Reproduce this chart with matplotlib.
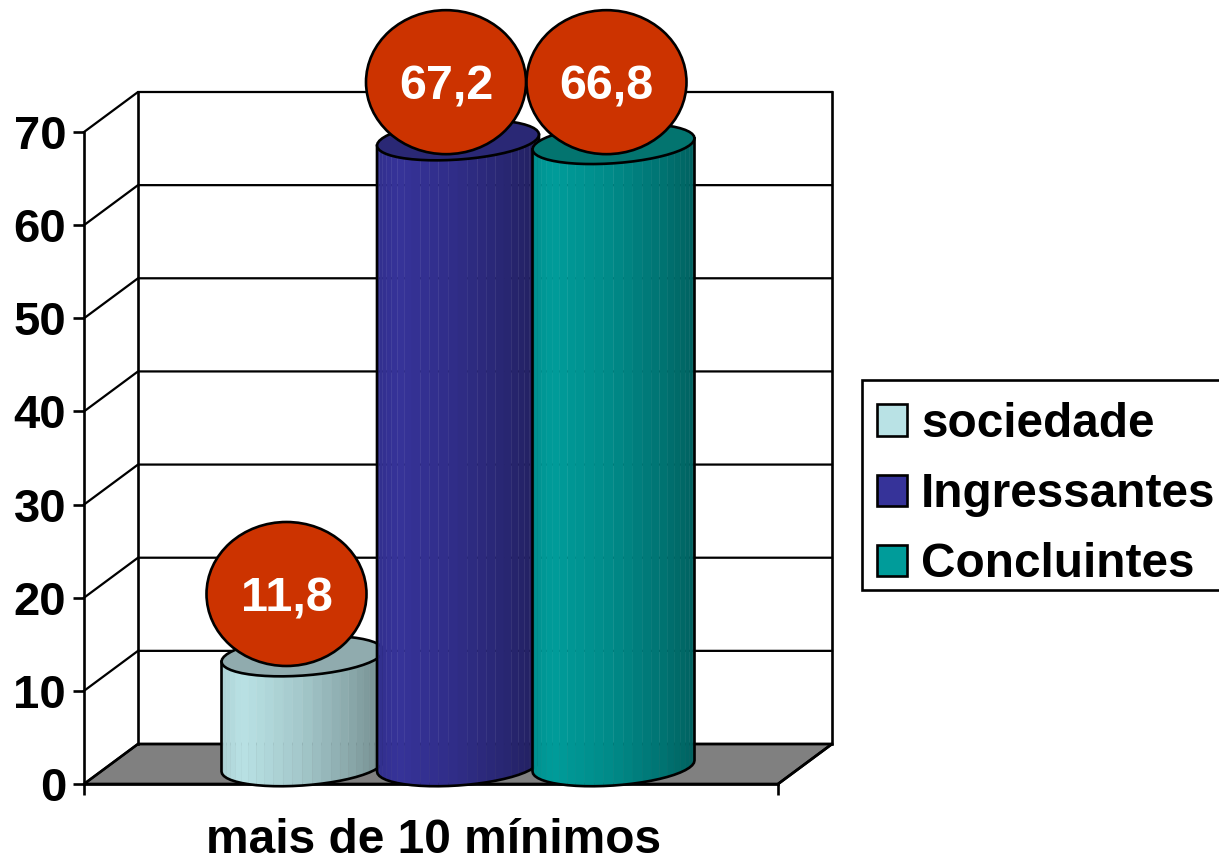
import matplotlib
matplotlib.use("Agg")
import matplotlib.pyplot as plt
import numpy as np
from matplotlib.patches import Ellipse, Patch, Polygon, Rectangle

plt.rcParams['font.family'] = ['Liberation Sans', 'DejaVu Sans']
plt.rcParams['font.weight'] = 'bold'

# ---- data ----
category = "mais de 10 mínimos"
series = ["sociedade", "Ingressantes", "Concluintes"]
values = [11.8, 67.2, 66.8]
y_ticks = [0, 10, 20, 30, 40, 50, 60, 70]
colors = ["#B9E2E5", "#363399", "#009C9A"]
top_colors = ["#90ABAE", "#2A2875", "#03746F"]

# ---- layout (pixels of the 1219x855 figure) ----
W, H = 1219, 855
AX_L, AX_R, AX_T, AX_B = 84, 778, 132, 784
PX = 1 / (AX_R - AX_L)          # x-data units per pixel
PY = 70 / (AX_B - AX_T)         # y-data units per pixel
DX, DY = 54 * PX, 40 * PY       # depth of the 3D box
SPACING = 155.5 * PX
RX = 81 * PX
RY = 19.5 * PY
SHEAR = 5.5 * PY
FLOOR_Y = 18 * PY
LW = 1.9
FS = 34.4
# bubbles: offset from bar centre (px), absolute centre height (data units)
bubble_dx = [-16, -12, -7]
bubble_y = [20.4, 75.35, 75.35]
BUB_W, BUB_H = 160 * PX, 144 * PY

fig = plt.figure(figsize=(W / 100, H / 100), dpi=100, facecolor='white')
ax = fig.add_axes([AX_L / W, 1 - AX_B / H, (AX_R - AX_L) / W, (AX_B - AX_T) / H])
ax.set_xlim(0, 1)
ax.set_ylim(0, 70)
ax.patch.set_visible(False)
for s in ('top', 'right'):
    ax.spines[s].set_visible(False)
for s in ('left', 'bottom'):
    ax.spines[s].set_linewidth(LW)

# floor
ax.add_patch(Polygon([(0, 0), (1, 0), (1 + DX, DY), (DX, DY)], closed=True,
                     facecolor='#808080', edgecolor='black', lw=LW, clip_on=False, zorder=1))
# wall grid
for v in y_ticks:
    ax.plot([0, DX, 1 + DX], [v, v + DY, v + DY], color='black', lw=LW * 0.85,
            clip_on=False, zorder=1.2, solid_joinstyle='miter')
ax.plot([DX, DX], [DY, 70 + DY], color='black', lw=LW, clip_on=False, zorder=1.2)
ax.plot([1 + DX, 1 + DX], [DY, 70 + DY], color='black', lw=LW, clip_on=False, zorder=1.2)
ax.plot([1, 1 + DX], [0, DY], color='black', lw=LW, clip_on=False, zorder=1.2)


def shade(u):
    # brightness across the cylinder, u from -1 (left) to 1 (right)
    return np.interp(u, [-1.0, -0.75, 0.0, 0.6, 1.0], [0.92, 1.0, 0.88, 0.74, 0.62])


N = 26
theta = np.linspace(np.pi, 0, N + 1)
us = np.cos(theta)
for i, (val, col, tcol) in enumerate(zip(values, colors, top_colors)):
    z = 3 + i
    cx = 0.5 + DX / 2 + (i - 1) * SPACING
    xs = cx + RX * us
    base = np.array(matplotlib.colors.to_rgb(col))
    low = FLOOR_Y + SHEAR * us - RY * np.sin(theta)
    top_c = FLOOR_Y + val
    up = top_c + SHEAR * us - RY * np.sin(theta)
    for k in range(N):
        um = 0.5 * (us[k] + us[k + 1])
        fc = np.clip(base * shade(um), 0, 1)
        ax.fill([xs[k], xs[k + 1], xs[k + 1], xs[k]],
                [low[k], low[k + 1], up[k + 1], up[k]],
                facecolor=fc, edgecolor=fc, lw=0.3, clip_on=False, zorder=z)
    # outline of the body
    ax.plot(np.r_[xs[0], xs, xs[-1]], np.r_[up[0], low, up[-1]], color='black',
            lw=LW, clip_on=False, zorder=z + 0.1, solid_joinstyle='round')
    # top face
    back = top_c + SHEAR * us + RY * np.sin(theta)
    ax.fill(np.r_[xs, xs[::-1]], np.r_[up, back[::-1]], facecolor=tcol,
            edgecolor='black', lw=LW, clip_on=False, zorder=z + 0.2)

# bubbles with value labels
for i, val in enumerate(values):
    bx = 0.5 + DX / 2 + (i - 1) * SPACING + bubble_dx[i] * PX
    ax.add_patch(Ellipse((bx, bubble_y[i]), BUB_W, BUB_H, facecolor='#CC3300',
                         edgecolor='black', lw=LW, clip_on=False, zorder=10))
    ax.text(bx, bubble_y[i], f"{val:.1f}".replace('.', ','), color='white', fontsize=FS + 0.5,
            fontweight='bold', ha='center', va='center_baseline', zorder=11)

# axes ticks and labels
ax.set_yticks(y_ticks)
ax.set_xticks([0, 1])
ax.set_xticklabels(['', ''])
ax.tick_params(axis='both', length=8, width=LW, direction='out', color='black')
ax.tick_params(axis='y', labelsize=34, pad=4.8)
ax.set_xlabel(category, fontsize=FS + 0.1, fontweight='bold', labelpad=0)
ax.xaxis.set_label_coords(0.5 + 2.5 * PX, -69 / (AX_B - AX_T), transform=ax.transAxes)
ax.xaxis.label.set_va('baseline')

# legend: frame drawn apart so the rows can sit lower inside it
fig.add_artist(Rectangle((862 / W, 1 - 590 / H), 400 / W, 210 / H, transform=fig.transFigure,
                         facecolor='white', edgecolor='black', lw=LW, zorder=20))
handles = [Patch(facecolor=c, edgecolor='black', lw=LW, label=s) for c, s in zip(colors, series)]
leg = fig.legend(handles=handles, loc='upper left', bbox_to_anchor=(862 / W, 1 - 386.5 / H),
                 borderaxespad=0, frameon=False, handlelength=0.63, handleheight=0.63,
                 handletextpad=0.29, labelspacing=0.53, borderpad=0.32,
                 prop={'size': FS, 'weight': 'bold'})
leg.set_zorder(21)

fig.savefig('out.png', dpi=100)
